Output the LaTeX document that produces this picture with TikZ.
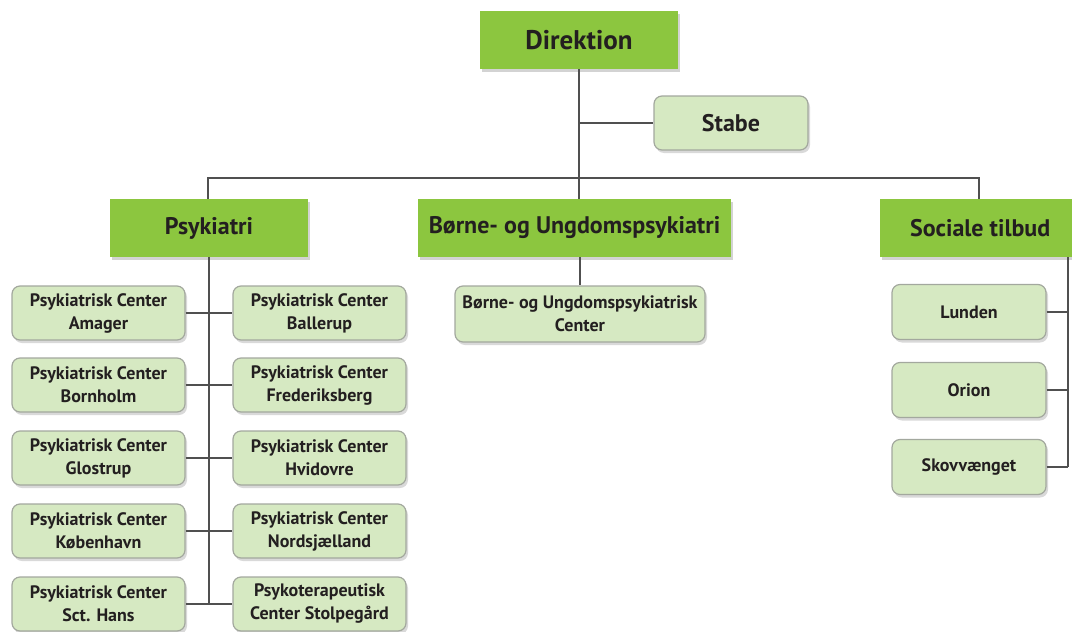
\documentclass[tikz,border=0pt]{standalone}
\usepackage{fontspec}
\setmainfont{PT Sans}
\usetikzlibrary{shadows}
\definecolor{dkgreen}{HTML}{8CC63F}
\definecolor{ltgreen}{HTML}{D6E9C2}
\definecolor{ltborder}{HTML}{A3A89E}
\definecolor{linecol}{HTML}{505050}
\definecolor{txtcol}{HTML}{231F20}
\tikzset{
  mainbox/.style={fill=dkgreen, draw=none, inner sep=0pt, text=txtcol,
    font=\bfseries\fontsize{24}{27}\selectfont,
    drop shadow={shadow xshift=2pt, shadow yshift=-3pt, opacity=0.35}},
  subbox/.style={fill=ltgreen, draw=ltborder, line width=1.2pt, rounded corners=8pt,
    inner sep=0pt, text=txtcol, align=center,
    font=\bfseries\fontsize{18}{23}\selectfont,
    drop shadow={shadow xshift=2pt, shadow yshift=-3pt, opacity=0.3}},
  conn/.style={draw=linecol, line width=2.4pt}
}
\begin{document}
\begin{tikzpicture}[x=1pt,y=-1pt]
\useasboundingbox (0,0) rectangle (1072,632);
% top
\node[mainbox, minimum width=198pt, minimum height=58pt, font=\bfseries\fontsize{27}{30}\selectfont] (dir) at (579,40) {Direktion};
\node[subbox, minimum width=154pt, minimum height=54pt, font=\bfseries\fontsize{24}{27}\selectfont] (stabe) at (731,123) {Stabe};
% level 2
\node[mainbox, minimum width=198pt, minimum height=58pt] (psy) at (209,228) {Psykiatri};
\node[mainbox, minimum width=313pt, minimum height=58pt] (bu) at (574.5,228) {Børne- og Ungdomspsykiatri};
\node[mainbox, minimum width=196pt, minimum height=58pt, anchor=west] (soc) at (880,228) {\hspace*{4pt}Sociale tilbud};
% psykiatri children
\foreach \n/\y/\a/\b in {l1/313/Psykiatrisk Center/Amager, l2/385/Psykiatrisk Center/Bornholm, l3/458/Psykiatrisk Center/Glostrup, l4/531/Psykiatrisk Center/København, l5/604/Psykiatrisk Center/Sct. Hans}{
  \node[subbox, minimum width=173pt, minimum height=54pt] (\n) at (98.5,\y) {\a\\\b};
}
\foreach \n/\y/\a/\b in {r1/313/Psykiatrisk Center/Ballerup, r2/385/Psykiatrisk Center/Frederiksberg, r3/458/Psykiatrisk Center/Hvidovre, r4/531/Psykiatrisk Center/Nordsjælland, r5/604/Psykoterapeutisk/Center Stolpegård}{
  \node[subbox, minimum width=173pt, minimum height=54pt] (\n) at (319.5,\y) {\a\\\b};
}
% børne child
\node[subbox, minimum width=250pt, minimum height=56pt] (buc) at (580,314) {Børne- og Ungdomspsykiatrisk\\Center};
% sociale children
\node[subbox, minimum width=154pt, minimum height=55pt] (lun) at (969,312) {Lunden};
\node[subbox, minimum width=154pt, minimum height=55pt] (ori) at (969,390) {Orion};
\node[subbox, minimum width=154pt, minimum height=55pt] (sko) at (969,467) {Skovvænget};
% coordinates
\coordinate (hb) at (579,178);
\coordinate (hl) at (208,178);
\coordinate (hr) at (979,178);
\coordinate (st) at (209,604);
\coordinate (sn) at (1068,257);
\coordinate (ss) at (1068,467);
% connectors
\draw[conn] (dir.south) -- (hb) -- (bu.north -| hb);
\draw[conn] (dir.south |- stabe.west) -- (stabe.west);
\draw[conn] (psy.north -| hl) -- (hl) -- (hr) -- (soc.north -| hr);
\draw[conn] (psy.south) -- (st);
\foreach \i in {1,...,5}{
  \draw[conn] (l\i.east) -- (r\i.west);
}
\draw[conn] (bu.south -| buc.north) -- (buc.north);
\draw[conn] (sn) -- (ss);
\draw[conn] (lun.east) -- (lun.east -| ss);
\draw[conn] (ori.east) -- (ori.east -| ss);
\draw[conn] (sko.east) -- (ss);
\end{tikzpicture}
\end{document}
